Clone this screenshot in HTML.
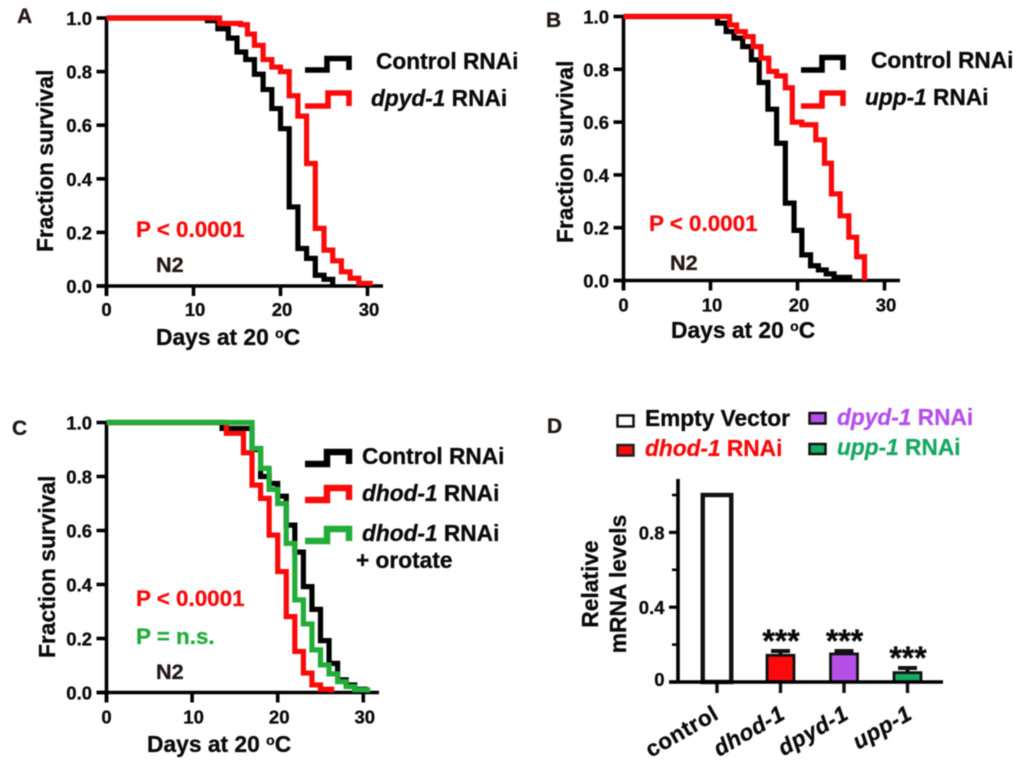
<!DOCTYPE html>
<html lang="en">
<head>
<meta charset="utf-8">
<title>Survival curves and mRNA levels</title>
<style>
html,body{margin:0;padding:0;background:#fff;width:1020px;height:765px;overflow:hidden}
svg{display:block;font-family:"Liberation Sans",Arial,sans-serif;font-weight:bold;filter:blur(0.4px)}
text{fill:#0a0a0a;stroke-width:0.3px}
.lab{font-size:22.7px}
.ax{font-size:22.8px}
.yl{font-size:22.8px}
.it{font-style:italic}
.red{fill:#fa0a0a}
.pv{font-size:22.4px}
.n2{font-size:21.7px;fill:#231815}
.pl{font-size:21px;fill:#231815}
</style>
</head>
<body>
<svg id="fig" xmlns="http://www.w3.org/2000/svg" width="1020" height="765" viewBox="0 0 1020 765">
  <g id="panelA">
    <text class="pl" x="17" y="23">A</text>
    <text class="yl" transform="translate(53,252) rotate(-90)">Fraction survival</text>
    <text class="ax" x="156" y="345">Days at 20 <tspan font-size="14" dy="-7">o</tspan><tspan dy="7">C</tspan></text>
    <text class="pv red" x="136" y="237">P &lt; 0.0001</text>
    <text class="n2" x="156" y="272">N2</text>
    <path d="M305 70H327V58.500H349V70" fill="none" stroke="#000" stroke-width="5.6"/>
    <path d="M305 106H328V93H349V106" fill="none" stroke="#fa0a0a" stroke-width="5.6"/>
    <text class="lab" x="376" y="69">Control RNAi</text>
    <text class="lab" x="371" y="106"><tspan class="it">dpyd-1</tspan> RNAi</text>
  </g>
  <g id="panelB">
    <text class="pl" x="546" y="27">B</text>
    <text class="yl" transform="translate(573,243) rotate(-90)">Fraction survival</text>
    <text class="ax" x="671" y="338">Days at 20 <tspan font-size="14" dy="-7">o</tspan><tspan dy="7">C</tspan></text>
    <text class="pv red" x="649" y="231">P &lt; 0.0001</text>
    <text class="n2" x="670" y="270">N2</text>
    <path d="M801 70H822V57.500H843V70" fill="none" stroke="#000" stroke-width="5.6"/>
    <path d="M801 106H822V93H843V106" fill="none" stroke="#fa0a0a" stroke-width="5.6"/>
    <text class="lab" x="871" y="68">Control RNAi</text>
    <text class="lab" x="865" y="105"><tspan class="it">upp-1</tspan> RNAi</text>
  </g>
  <g id="panelC">
    <text class="pl" x="12" y="435">C</text>
    <text class="yl" transform="translate(55,658) rotate(-90)">Fraction survival</text>
    <text class="ax" x="147" y="752">Days at 20 <tspan font-size="14" dy="-7">o</tspan><tspan dy="7">C</tspan></text>
    <text class="pv red" x="136" y="606">P &lt; 0.0001</text>
    <text class="pv" x="136" y="644" style="fill:#22ac38">P = n.s.</text>
    <text class="n2" x="156" y="679">N2</text>
    <path d="M305 464H327V452H349V464" fill="none" stroke="#000" stroke-width="6.5"/>
    <path d="M305 500H327V488H349V500" fill="none" stroke="#fa0a0a" stroke-width="6.5"/>
    <path d="M305 541H327V529H349V541" fill="none" stroke="#22ac38" stroke-width="6.5"/>
    <text class="lab" x="362" y="464">Control RNAi</text>
    <text class="lab" x="362" y="501"><tspan class="it">dhod-1</tspan> RNAi</text>
    <text class="lab" x="362" y="541"><tspan class="it">dhod-1</tspan> RNAi</text>
    <text class="lab" x="356" y="568">+ orotate</text>
  </g>
  <g id="panelD">
    <text class="pl" x="547" y="433">D</text>
    <rect x="617.500" y="415.500" width="16" height="11" fill="#fff" stroke="#111" stroke-width="2.500"/>
    <rect x="617.500" y="445" width="16" height="10.500" fill="#fa0a0a" stroke="#222" stroke-width="2.500"/>
    <rect x="809.500" y="413" width="16" height="10.500" fill="#b64fe8" stroke="#111" stroke-width="2.500"/>
    <rect x="809.500" y="444" width="16" height="10" fill="#17a862" stroke="#111" stroke-width="2.500"/>
    <text class="lab" x="645" y="426">Empty Vector</text>
    <text class="lab" x="645" y="456" style="fill:#fa0a0a"><tspan class="it">dhod-1</tspan> RNAi</text>
    <text class="lab" x="837" y="425" style="fill:#b64fe8"><tspan class="it">dpyd-1</tspan> RNAi</text>
    <text class="lab" x="837" y="455" style="fill:#17a862"><tspan class="it">upp-1</tspan> RNAi</text>
    <text class="yl" text-anchor="middle" transform="translate(598,584) rotate(-90)">Relative</text>
    <text class="yl" text-anchor="middle" transform="translate(626,584) rotate(-90)">mRNA levels</text>
  </g>
</svg>
<script>
// Panel A
var aControlDays = [11.6,12.8,14,15,16,17,18,19,20,21,22,23,24,25,26];
var aControlSurvival = [0.99,0.96,0.925,0.873,0.845,0.79,0.733,0.662,0.587,0.295,0.14,0.103,0.04,0.025,0];
var aDpydDays = [13,15.4,16.2,17,18,19,20,21,22,23,24,25,26,27,28,29,30.3];
var aDpydSurvival = [0.98,0.975,0.94,0.898,0.845,0.817,0.8,0.71,0.634,0.457,0.215,0.134,0.094,0.053,0.029,0.01,0];
// Panel B
var bControlDays = [10.8,11.8,12.7,13.7,14.7,15.6,16.6,17.6,18.6,19.6,20.5,21.5,22.4,23.3,24.2,26];
var bControlSurvival = [0.975,0.943,0.918,0.886,0.836,0.75,0.649,0.52,0.293,0.19,0.097,0.056,0.04,0.025,0.012,0];
var bUppDays = [12.2,13,14,14.9,15.8,16.7,17.6,18.6,19.4,20.5,22.1,23.1,23.9,24.9,25.9,26.8,27.7];
var bUppSurvival = [0.968,0.943,0.924,0.886,0.842,0.792,0.775,0.73,0.6,0.59,0.533,0.444,0.328,0.245,0.164,0.09,0];
// Panel C
var cControlDays = [13.5,17,18,19,20,21,22,23,24,25,26,27,28,29,30.2];
var cControlSurvival = [0.978,0.9,0.8,0.774,0.727,0.62,0.52,0.392,0.308,0.192,0.108,0.047,0.028,0.012,0];
var cDhodDays = [14,16,17,18,19,20,21,22,23,24,25,26.3];
var cDhodSurvival = [0.96,0.888,0.768,0.719,0.583,0.448,0.281,0.152,0.072,0.028,0.012,0];
var cOrotateDays = [17,18,19,20,21,22,23,24,25,26,27,28,29,30.5];
var cOrotateSurvival = [0.904,0.83,0.752,0.7,0.552,0.343,0.254,0.158,0.102,0.069,0.04,0.022,0.01,0];
// Survival axes
var survivalYTicks = [0,0.2,0.4,0.6,0.8,1];
var survivalYLabels = ['0.0','0.2','0.4','0.6','0.8','1.0'];
var survivalXTicks = [0,10,20,30];
var survivalXLabels = ['0','10','20','30'];
// Panel D
var geneCategories = ['control','dhod-1','dpyd-1','upp-1'];
var geneLevels = [1,0.143,0.15,0.05];
var geneErrors = [0,0.023,0.016,0.025];
var geneStars = ['','***','***','***'];
var geneYTicks = [0,0.4,0.8];
var geneYLabels = ['0','0.4','0.8'];
var geneYMinorTicks = [0.2,0.6,1];

var SVGNS = 'http://www.w3.org/2000/svg';
function mk(tag, attrs, parent) {
  var el = document.createElementNS(SVGNS, tag);
  for (var k in attrs) { el.setAttribute(k, attrs[k]); }
  parent.appendChild(el);
  return el;
}

function drawSurvival(parent, box, series) {
  function xS(d) { return box.x0 + d * box.xs; }
  function yS(v) { return box.y0 - v * box.ys; }
  var axes = mk('path', {d: 'M' + xS(0) + ' ' + yS(1) + 'V' + (yS(0) + 10) + 'M' + (xS(0) - 10) + ' ' + yS(0) + 'H' + box.xEnd, fill: 'none', stroke: '#000', 'stroke-width': 3.6}, parent);
  
  
  survivalYTicks.forEach(function (v, i) {
    var t = mk('line', {x1: xS(0) - 10, x2: xS(0), y1: yS(v), y2: yS(v), stroke: '#000', 'stroke-width': 3.6}, parent);
    
    
    var l = mk('text', {x: xS(0) - 14.500, y: yS(v) + 7, 'text-anchor': 'end', 'font-size': 18.5}, parent);
    
    
    l.textContent = survivalYLabels[i];
  });
  survivalXTicks.forEach(function (v, i) {
    var t = mk('line', {x1: xS(v), x2: xS(v), y1: yS(0), y2: yS(0) + 10, stroke: '#000', 'stroke-width': 3.6}, parent);
    
    
    var l = mk('text', {x: xS(v) + (i ? 1.500 : 0), y: yS(0) + box.xLabelGap, 'text-anchor': 'middle', 'font-size': 18.5}, parent);
    
    
    l.textContent = survivalXLabels[i];
  });
  series.forEach(function (s) {
    var d = 'M' + xS(0) + ' ' + yS(1);
    s.days.forEach(function (day, i) {
      d += 'H' + xS(day) + 'V' + yS(s.values[i]);
    });
    var p = mk('path', {d: d, fill: 'none', stroke: s.color, 'stroke-width': 5.2, 'stroke-linejoin': 'miter'}, parent);
    
    
  });
}

drawSurvival(document.getElementById('panelA'), {x0: 106.5, xs: 8.7, y0: 286, ys: 268, xEnd: 383, xLabelGap: 30}, [
  {days: aControlDays, values: aControlSurvival, color: '#000'},
  {days: aDpydDays, values: aDpydSurvival, color: '#fa0a0a'}
]);
drawSurvival(document.getElementById('panelB'), {x0: 623.5, xs: 8.7, y0: 280.500, ys: 264, xEnd: 900, xLabelGap: 31}, [
  {days: bControlDays, values: bControlSurvival, color: '#000'},
  {days: bUppDays, values: bUppSurvival, color: '#fa0a0a'}
]);
drawSurvival(document.getElementById('panelC'), {x0: 106.5, xs: 8.56, y0: 692.500, ys: 270, xEnd: 379, xLabelGap: 31}, [
  {days: cControlDays, values: cControlSurvival, color: '#000'},
  {days: cDhodDays, values: cDhodSurvival, color: '#fa0a0a'},
  {days: cOrotateDays, values: cOrotateSurvival, color: '#22ac38'}
]);

(function () {
  var parent = document.getElementById('panelD');
  var barFills = ['#fff', '#fa0a0a', '#b64fe8', '#17a862'];
  function yG(v) { return 682 - v * 187; }
  function xG(i) { return 717 + 63.5 * i; }
  geneCategories.forEach(function (c, i) {
    var isControl = i === 0;
    if (geneErrors[i] > 0) {
      var top = yG(geneLevels[i] + geneErrors[i]);
      var e = mk('path', {d: 'M' + (xG(i) - 9.500) + ' ' + top + 'H' + (xG(i) + 9.500) + 'M' + xG(i) + ' ' + top + 'V' + yG(geneLevels[i]), fill: 'none', stroke: '#111', 'stroke-width': 4}, parent);
      
      
    }
    var w = isControl ? 28.5 : 27;
    var b = mk('rect', {x: xG(i) - w / 2, y: yG(geneLevels[i]), width: w, height: 682 - yG(geneLevels[i]), fill: barFills[i], stroke: '#111', 'stroke-width': isControl ? 4.4 : 2.8}, parent);
    
    
    if (geneStars[i]) {
      var s = mk('text', {x: xG(i) + 0.5, y: yG(geneLevels[i] + geneErrors[i]) + 1, 'text-anchor': 'middle', 'font-size': 32}, parent);
      
      
      s.textContent = geneStars[i];
    }
    var t = mk('line', {x1: xG(i), x2: xG(i), y1: 682, y2: 693, stroke: '#111', 'stroke-width': 3.4}, parent);
    
    
    var l = mk('text', {'text-anchor': 'end', 'font-size': 22.5, 'letter-spacing': 0.5, transform: 'translate(' + (xG(i) + (isControl ? 3 : 6)) + ',718) rotate(-30)'}, parent);
    
    
    if (!isControl) { l.setAttribute('font-style', 'italic'); }
    l.textContent = c;
  });
  var ax = mk('path', {d: 'M678 479V682M669 682H943', fill: 'none', stroke: '#000', 'stroke-width': 3.6}, parent);
  
  
  geneYTicks.forEach(function (v, i) {
    var t = mk('line', {x1: 669, x2: 678, y1: yG(v), y2: yG(v), stroke: '#000', 'stroke-width': 3.2}, parent);
    
    
    var l = mk('text', {x: 664.5, y: yG(v) + (v === 0 ? 4 : 7), 'text-anchor': 'end', 'font-size': 18.5}, parent);
    
    
    l.textContent = geneYLabels[i];
  });
  geneYMinorTicks.forEach(function (v) {
    var t = mk('line', {x1: 672, x2: 678, y1: yG(v), y2: yG(v), stroke: '#000', 'stroke-width': 2.6}, parent);
    
    
  });
})();

// Thicken every label slightly, matching the heavier weight of the reference type
document.querySelectorAll('text').forEach(function (t) {
  t.style.stroke = getComputedStyle(t).fill;
});
</script>
</body>
</html>
